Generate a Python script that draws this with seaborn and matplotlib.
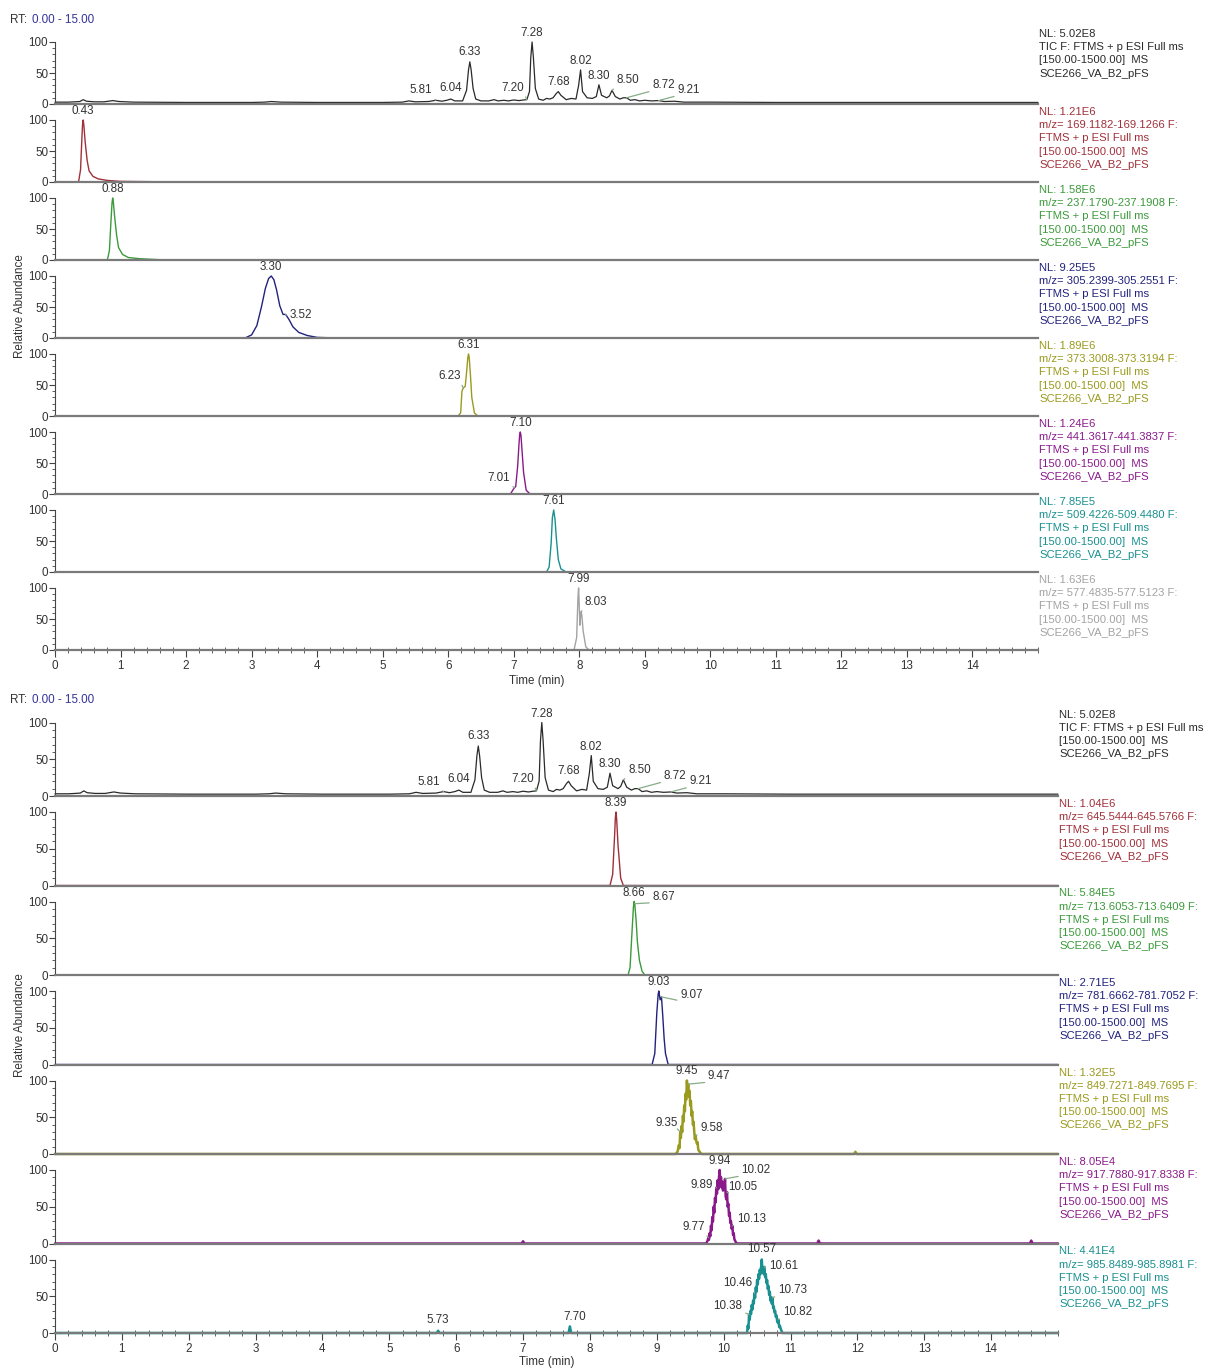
import numpy as np
import matplotlib
matplotlib.use("Agg")
import matplotlib.pyplot as plt
from matplotlib.ticker import FixedLocator, MultipleLocator
import seaborn as sns

# ---------------------------------------------------------------- data
# Total ion current (same run shown at the top of both panels)
tic_rt = [0.00, 0.20, 0.30, 0.38, 0.43, 0.48, 0.60, 0.75, 0.88, 0.98, 1.20, 2.00, 3.00, 3.20,
          3.30, 3.45, 4.00, 5.00, 5.30, 5.40, 5.50, 5.70, 5.81, 5.90, 5.98, 6.04, 6.10, 6.22,
          6.28, 6.31, 6.33, 6.35, 6.38, 6.42, 6.50, 6.62, 6.70, 6.76, 6.85, 6.92, 7.00, 7.08,
          7.15, 7.20, 7.24, 7.26, 7.28, 7.30, 7.33, 7.38, 7.45, 7.50, 7.55, 7.60, 7.65, 7.68,
          7.72, 7.80, 7.88, 7.95, 7.99, 8.02, 8.05, 8.12, 8.20, 8.26, 8.30, 8.34, 8.42, 8.46,
          8.50, 8.55, 8.62, 8.67, 8.72, 8.78, 8.85, 8.92, 9.00, 9.10, 9.21, 9.30, 9.45, 9.60,
          10.00, 11.00, 12.00, 13.00, 14.00, 15.00]
tic_ab = [3.0, 3.0, 3.5, 4.0, 7.0, 4.5, 3.5, 3.5, 5.5, 4.0, 3.0, 2.5, 2.5, 3.0,
          4.0, 3.0, 2.5, 2.5, 3.0, 5.0, 3.5, 4.0, 6.0, 4.5, 6.0, 8.0, 5.0, 5.0,
          22.0, 55.0, 68.0, 55.0, 25.0, 8.0, 5.0, 5.0, 7.0, 5.0, 6.0, 5.0, 6.5, 5.5,
          6.5, 7.0, 20.0, 75.0, 100.0, 75.0, 25.0, 8.0, 6.0, 9.0, 8.0, 10.0, 17.0, 20.0,
          14.0, 7.0, 9.0, 8.0, 30.0, 55.0, 20.0, 10.0, 9.0, 12.0, 31.0, 14.0, 10.0, 13.0,
          22.0, 12.0, 8.0, 10.0, 10.0, 6.0, 7.0, 5.0, 6.0, 5.0, 5.5, 4.0, 4.5, 3.0,
          3.0, 2.5, 2.5, 2.5, 2.5, 2.5]
tic_peaks = [5.81, 6.04, 6.33, 7.20, 7.28, 7.68, 8.02, 8.30, 8.50, 8.72, 9.21]

# Extracted ion chromatograms, first panel
mz169_rt = [0.00, 0.36, 0.39, 0.41, 0.42, 0.43, 0.44, 0.46, 0.49, 0.52, 0.58, 0.66, 0.80,
            1.00, 1.50, 15.00]
mz169_ab = [0.5, 0.5, 20, 70, 92, 100, 92, 65, 35, 18, 9, 5, 2.5, 1, 0.5, 0.5]
mz169_peaks = [0.43]

mz237_rt = [0.00, 0.80, 0.83, 0.85, 0.87, 0.88, 0.89, 0.91, 0.94, 0.97, 1.03, 1.12, 1.30,
            1.60, 15.00]
mz237_ab = [0.5, 0.5, 15, 55, 92, 100, 94, 70, 40, 20, 9, 4, 2, 0.5, 0.5]
mz237_peaks = [0.88]

mz305_rt = [0.00, 2.90, 3.00, 3.08, 3.15, 3.21, 3.26, 3.30, 3.34, 3.38, 3.43, 3.48, 3.52,
            3.57, 3.63, 3.72, 3.85, 4.00, 4.30, 15.00]
mz305_ab = [0, 0, 5, 20, 50, 80, 96, 100, 94, 78, 52, 38, 38, 30, 18, 9, 4, 1, 0, 0]
mz305_peaks = [3.30, 3.52]

mz373_rt = [0.00, 6.15, 6.19, 6.21, 6.23, 6.26, 6.28, 6.30, 6.31, 6.32, 6.34, 6.36, 6.40,
            6.45, 15.00]
mz373_ab = [0, 0, 5, 40, 45, 48, 70, 95, 100, 95, 65, 30, 5, 0, 0]
mz373_peaks = [6.23, 6.31]

mz441_rt = [0.00, 6.95, 6.99, 7.01, 7.03, 7.06, 7.08, 7.09, 7.10, 7.11, 7.13, 7.15, 7.19,
            7.25, 15.00]
mz441_ab = [0, 0, 7, 10, 12, 45, 80, 95, 100, 95, 65, 35, 6, 0, 0]
mz441_peaks = [7.01, 7.10]

mz509_rt = [0.00, 7.50, 7.54, 7.57, 7.59, 7.61, 7.63, 7.65, 7.68, 7.72, 7.80, 15.00]
mz509_ab = [0, 0, 8, 45, 88, 100, 85, 55, 20, 5, 0, 0]
mz509_peaks = [7.61]

mz577_rt = [0.00, 7.92, 7.96, 7.98, 7.99, 8.00, 8.01, 8.02, 8.03, 8.04, 8.06, 8.10, 8.15,
            15.00]
mz577_ab = [0, 0, 20, 85, 100, 70, 40, 55, 62, 55, 30, 5, 0, 0]
mz577_peaks = [7.99, 8.03]

# Extracted ion chromatograms, second panel
mz645_rt = [0.00, 8.30, 8.34, 8.37, 8.38, 8.39, 8.40, 8.42, 8.46, 8.50, 15.00]
mz645_ab = [0, 0, 15, 70, 92, 100, 90, 55, 10, 0, 0]
mz645_peaks = [8.39]

mz713_rt = [0.00, 8.57, 8.60, 8.63, 8.65, 8.66, 8.67, 8.69, 8.71, 8.74, 8.78, 8.82, 15.00]
mz713_ab = [0, 0, 10, 60, 92, 100, 97, 75, 45, 20, 5, 0, 0]
mz713_peaks = [8.66, 8.67]

mz781_rt = [0.00, 8.93, 8.97, 9.00, 9.02, 9.03, 9.05, 9.07, 9.09, 9.11, 9.13, 9.17, 15.00]
mz781_ab = [0, 0, 15, 70, 95, 100, 88, 92, 65, 35, 15, 0, 0]
mz781_peaks = [9.03, 9.07]

mz849_rt = [0.00, 9.28, 9.31, 9.33, 9.34, 9.35, 9.36, 9.37, 9.38, 9.39, 9.40, 9.41, 9.42,
            9.43, 9.44, 9.45, 9.46, 9.47, 9.48, 9.49, 9.50, 9.51, 9.52, 9.53, 9.54, 9.55,
            9.56, 9.57, 9.58, 9.59, 9.60, 9.61, 9.62, 9.64, 9.67, 11.95, 11.97, 11.99, 15.00]
mz849_ab = [0, 0, 3, 12, 8, 30, 22, 38, 30, 52, 44, 66, 58,
            82, 74, 100, 84, 95, 78, 86, 66, 72, 52, 58, 40, 44,
            30, 20, 25, 18, 14, 16, 6, 3, 0, 0, 3, 0, 0]
mz849_peaks = [9.35, 9.45, 9.47, 9.58]

mz917_rt = [0.00, 6.98, 7.00, 7.02, 9.74, 9.76, 9.77, 9.78, 9.79, 9.80, 9.81, 9.82, 9.83,
            9.84, 9.85, 9.86, 9.87, 9.88, 9.89, 9.90, 9.91, 9.92, 9.93, 9.94, 9.95, 9.96,
            9.97, 9.98, 9.99, 10.00, 10.01, 10.02, 10.03, 10.04, 10.05, 10.06, 10.07,
            10.08, 10.09, 10.10, 10.11, 10.12, 10.13, 10.14, 10.15, 10.16, 10.18, 10.20,
            11.40, 11.42, 11.44, 14.58, 14.60, 14.62, 15.00]
mz917_ab = [0, 0, 3, 0, 0, 4, 8, 5, 14, 10, 24, 18, 36,
            30, 50, 42, 62, 56, 76, 68, 86, 74, 90, 100, 82, 90,
            76, 84, 72, 80, 74, 88, 64, 60, 70, 50, 54,
            38, 42, 28, 30, 20, 24, 12, 14, 6, 2, 0,
            0, 4, 0, 0, 4, 0, 0]
mz917_peaks = [9.77, 9.89, 9.94, 10.02, 10.05, 10.13]

mz985_rt = [0.00, 5.71, 5.73, 5.75, 7.68, 7.70, 7.72, 10.35, 10.36, 10.37, 10.38, 10.39,
            10.40, 10.41, 10.42, 10.43, 10.44, 10.45, 10.46, 10.47, 10.48, 10.49, 10.50,
            10.51, 10.52, 10.53, 10.54, 10.55, 10.56, 10.57, 10.58, 10.59, 10.60, 10.61,
            10.62, 10.63, 10.64, 10.65, 10.66, 10.67, 10.68, 10.69, 10.70, 10.71, 10.72,
            10.73, 10.74, 10.75, 10.76, 10.77, 10.78, 10.79, 10.80, 10.81, 10.82, 10.83,
            10.84, 10.86, 10.88, 15.00]
mz985_ab = [0, 0, 3, 0, 0, 9, 0, 0, 10, 6, 25, 18,
            30, 26, 38, 32, 44, 40, 54, 48, 62, 56, 72,
            66, 80, 74, 86, 80, 90, 100, 84, 88, 80, 90,
            76, 80, 68, 72, 60, 64, 52, 56, 44, 48, 40,
            48, 34, 36, 28, 30, 22, 24, 16, 14, 18, 8,
            10, 4, 0, 0]
mz985_peaks = [5.73, 7.70, 10.38, 10.46, 10.57, 10.61, 10.73, 10.82]

# Normalisation levels and m/z windows shown beside each trace
tic_nl = "5.02E8"
xic_nl = ["1.21E6", "1.58E6", "9.25E5", "1.89E6", "1.24E6", "7.85E5", "1.63E6",
          "1.04E6", "5.84E5", "2.71E5", "1.32E5", "8.05E4", "4.41E4"]
xic_mz = ["169.1182-169.1266", "237.1790-237.1908", "305.2399-305.2551",
          "373.3008-373.3194", "441.3617-441.3837", "509.4226-509.4480",
          "577.4835-577.5123", "645.5444-645.5766", "713.6053-713.6409",
          "781.6662-781.7052", "849.7271-849.7695", "917.7880-917.8338",
          "985.8489-985.8981"]
scan_filter = "FTMS + p ESI Full ms"
scan_range = "[150.00-1500.00]  MS"
sample_name = "SCE266_VA_B2_pFS"
rt_range = "0.00 - 15.00"
x_ticks = list(range(0, 15))

# ---------------------------------------------------------------- style
sns.set_theme(style="white")
plt.rcParams["font.family"] = ["Liberation Sans", "DejaVu Sans"]

W, H = 1208, 1369
fig = plt.figure(figsize=(W / 100, H / 100), dpi=100)

TXT = "#333333"
LEADER = "#86ad86"
FS = 8.4
FS_SIDE = 8.1
colors = ["#a0303a", "#3b9a3b", "#22227e", "#9a9a1e", "#8a1a8a", "#1a9090", "#a3a3a3"]

# label offsets (pixels) from the apex of each labelled peak
tic_off = [(-15, 4), (0, 5), (0, 4), (-14, 6), (0, 3), (0, 4), (0, 3), (0, 3),
           (16, 4), (37, 7), (30, 5)]
off = {
    "169": [(0, 3)], "237": [(0, 3)], "305": [(0, 3), (15, -7)],
    "373": [(-14, 6), (0, 3)], "441": [(-16, 4), (0, 3)], "509": [(0, 3)],
    "577": [(0, 3), (15, 4)], "645": [(0, 3)], "713": [(0, 3), (29, 1)],
    "781": [(0, 3), (30, -4)], "849": [(-14, 3), (0, 3), (31, 2), (16, 2)],
    "917": [(-15, 5), (-15, -3), (0, 3), (31, 3), (16, -1), (19, 1)],
    "985": [(0, 5), (5, 3), (-21, 3), (-17, 4), (0, 5), (19, -5), (20, 2), (19, 2)],
}


def add_row(left, right, top, bottom):
    return fig.add_axes([left / W, 1 - bottom / H, (right - left) / W, (bottom - top) / H])


def label_peaks(ax, rt, ab, peaks, offsets):
    for p, (dx, dy) in zip(peaks, offsets):
        y = float(np.interp(p, rt, ab))
        kw = {}
        if abs(dx) > 6:
            kw["arrowprops"] = dict(arrowstyle="-", color=LEADER, lw=0.9,
                                    shrinkA=0, shrinkB=0,
                                    relpos=(1, 0) if dx < 0 else (0, 0))
        ax.annotate(f"{p:.2f}", xy=(p, y), xytext=(dx, dy), textcoords="offset pixels",
                    ha="center", va="bottom", fontsize=FS, color=TXT,
                    annotation_clip=False, **kw)


def draw_panel(rows, left, right, first_top, pitch, span100, header_y,
               xlabel_y, ylabel_y):
    ytop = 100.0 * pitch / span100
    fig.text(10 / W, 1 - header_y / H, "RT:", fontsize=FS, color=TXT, va="center")
    fig.text(32 / W, 1 - header_y / H, rt_range, fontsize=FS, color="#34349a", va="center")
    n = len(rows)
    for i, r in enumerate(rows):
        top = first_top + i * pitch
        bottom = top + pitch
        ax = add_row(left, right, top, bottom)
        sns.lineplot(x=r["rt"], y=r["ab"], ax=ax, color=r["color"], lw=r.get("lw", 1.0),
                     estimator=None, sort=False)
        for ln in ax.lines:
            ln.set_clip_on(False)
        ax.set_xlim(0, 15)
        ax.set_ylim(0, ytop)
        ax.set_xlabel("")
        ax.set_ylabel("")
        for s in ("top", "right"):
            ax.spines[s].set_visible(False)
        ax.spines["left"].set_bounds(0, 100)
        ax.spines["left"].set_color("#444444")
        ax.spines["left"].set_linewidth(0.8)
        ax.spines["bottom"].set_color("#7a7a7a")
        ax.spines["bottom"].set_linewidth(1.6)
        ax.patch.set_alpha(0)
        ax.yaxis.set_major_locator(FixedLocator([0, 50, 100]))
        ax.yaxis.set_minor_locator(FixedLocator(list(range(0, 101, 10))))
        ax.tick_params(axis="y", which="major", direction="out", length=4, width=0.8,
                       color="#444444", labelsize=FS, labelcolor=TXT, pad=1, left=True)
        ax.tick_params(axis="y", which="minor", direction="out", length=2.5, width=0.6,
                       color="#444444", left=True)
        if i == n - 1:
            ax.xaxis.set_major_locator(FixedLocator(x_ticks))
            ax.xaxis.set_minor_locator(MultipleLocator(0.2))
            ax.tick_params(axis="x", which="major", direction="out", length=5, width=0.8,
                           color="#444444", labelsize=FS, labelcolor=TXT, pad=2, bottom=True)
            ax.tick_params(axis="x", which="minor", direction="inout", length=4, width=0.6,
                           color="#444444", bottom=True)
        else:
            ax.tick_params(axis="x", which="both", bottom=False, labelbottom=False)
        label_peaks(ax, r["rt"], r["ab"], r["peaks"], r["off"])
        fig.text((right + 1) / W, 1 - (top + 3) / H, r["text"], ha="left", va="top",
                 fontsize=FS_SIDE, color=r["tcolor"], linespacing=1.4)
    fig.text(((left + right) / 2 - 10) / W, 1 - xlabel_y / H, "Time (min)", ha="center",
             va="center", fontsize=FS, color=TXT)
    fig.text(20 / W, 1 - ylabel_y / H, "Relative Abundance", rotation=90, ha="center",
             va="center", fontsize=FS, color=TXT)


def xic_text(k):
    return (f"NL: {xic_nl[k]}\nm/z= {xic_mz[k]} F:\n{scan_filter}\n"
            f"{scan_range}\n{sample_name}")


tic_text = f"NL: {tic_nl}\nTIC F: {scan_filter}\n{scan_range}\n{sample_name}"

tic_row = dict(rt=tic_rt, ab=tic_ab, peaks=tic_peaks, off=tic_off, color="#2a2a2a",
               tcolor="#2a2a2a", text=tic_text, lw=0.9)

series_a = [(mz169_rt, mz169_ab, mz169_peaks, "169"), (mz237_rt, mz237_ab, mz237_peaks, "237"),
            (mz305_rt, mz305_ab, mz305_peaks, "305"), (mz373_rt, mz373_ab, mz373_peaks, "373"),
            (mz441_rt, mz441_ab, mz441_peaks, "441"), (mz509_rt, mz509_ab, mz509_peaks, "509"),
            (mz577_rt, mz577_ab, mz577_peaks, "577")]
series_b = [(mz645_rt, mz645_ab, mz645_peaks, "645"), (mz713_rt, mz713_ab, mz713_peaks, "713"),
            (mz781_rt, mz781_ab, mz781_peaks, "781"), (mz849_rt, mz849_ab, mz849_peaks, "849"),
            (mz917_rt, mz917_ab, mz917_peaks, "917"), (mz985_rt, mz985_ab, mz985_peaks, "985")]

rows_a = [tic_row]
for k, (rt, ab, pk, key) in enumerate(series_a):
    rows_a.append(dict(rt=rt, ab=ab, peaks=pk, off=off[key], color=colors[k],
                       tcolor=colors[k], text=xic_text(k)))
rows_b = [tic_row]
for j, (rt, ab, pk, key) in enumerate(series_b):
    noisy = key in ("849", "917", "985")
    rows_b.append(dict(rt=rt, ab=ab, peaks=pk, off=off[key], color=colors[j],
                       tcolor=colors[j], text=xic_text(7 + j), lw=1.8 if noisy else 1.0))

draw_panel(rows_a, 55, 1038, 26, 78, 62, 20, 681, 306)
draw_panel(rows_b, 55, 1058, 706.5, 89.5, 73.5, 700, 1362, 1025)

fig.savefig("out.png", dpi=100)
